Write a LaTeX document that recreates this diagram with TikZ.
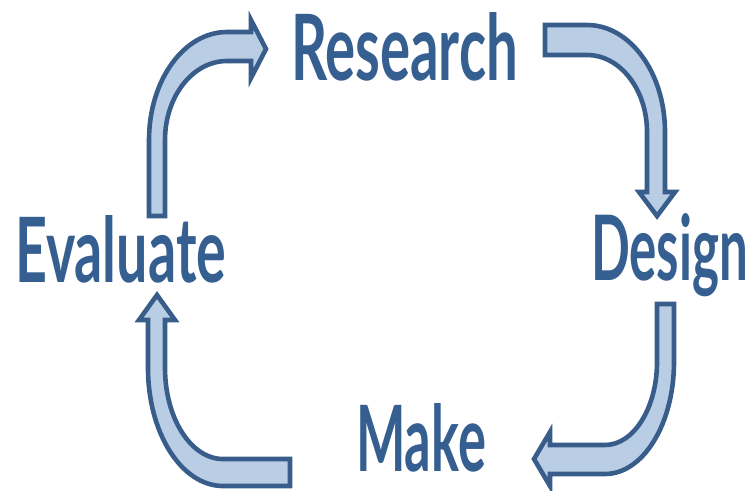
\documentclass[tikz,border=0pt]{standalone}
\usepackage{fontspec}
\setmainfont{Lato}
\definecolor{txtblue}{HTML}{365F91}
\definecolor{arrowfill}{HTML}{B9CDE5}
\definecolor{arrowline}{HTML}{385D8A}
\begin{document}
\begin{tikzpicture}[x=1pt,y=-1pt,
  word/.style={anchor=base west,inner sep=0pt,outer sep=0pt,text=txtblue,font=\bfseries},
  blockarrow/.style={fill=arrowfill,draw=arrowline,line width=4.6pt,line join=miter}]
\useasboundingbox (0,0) rectangle (754,490);
% words
\node[word] (research) at (291,80) {\resizebox{227pt}{68pt}{Research}};
\node[word] (design) at (591,280) {\resizebox{157pt}{67pt}{Design}};
\node[word] (make) at (356,471) {\resizebox{130pt}{68pt}{Make}};
\node[word] (evaluate) at (15,282) {\resizebox{211pt}{67pt}{Evaluate}};
% Evaluate -> Research
\draw[blockarrow] (149,216) -- (149,140) .. controls (149,80.4) and (183.9,32) .. (227,32)
  -- (251,32) -- (251,20) -- (266,49) -- (251,78) -- (251,61) -- (227,61)
  .. controls (192.8,61) and (165,96.4) .. (165,140) -- (165,216) -- cycle;
% Research -> Design
\draw[blockarrow] (545,25) -- (587,25) .. controls (630.1,25) and (665,72.9) .. (665,132)
  -- (665,192) -- (675,192) -- (657,216) -- (639,192) -- (647,192) -- (647,132)
  .. controls (647,89.5) and (620.1,55) .. (587,55) -- (545,55) -- cycle;
% Design -> Make
\draw[blockarrow] (674,304) -- (674,362) .. controls (674,423.9) and (643.1,474) .. (605,474)
  -- (550,474) -- (550,486) -- (534,459) -- (550,432) -- (550,445) -- (605,445)
  .. controls (633.7,445) and (657,407.8) .. (657,362) -- (657,304) -- cycle;
% Make -> Evaluate
\draw[blockarrow] (290,486) -- (223,486) .. controls (181.6,486) and (148,433.2) .. (148,368)
  -- (148,320) -- (139,320) -- (157,295) -- (175,320) -- (165,320) -- (165,368)
  .. controls (165,418.3) and (191.0,459) .. (223,459) -- (290,459) -- cycle;
\end{tikzpicture}
\end{document}
